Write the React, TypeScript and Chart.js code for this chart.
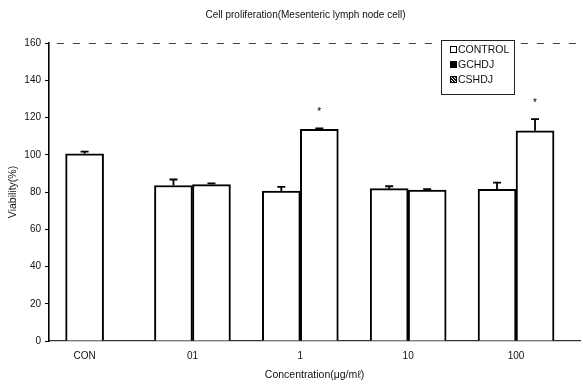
import React, { useEffect, useRef } from "react";
import { Chart, registerables } from "chart.js";

Chart.register(...registerables);

// ---------- data ----------
const TITLE = "Cell proliferation(Mesenteric lymph node cell)";
const X_TITLE = "Concentration(\u03BCg/m\u2113)";
const Y_TITLE = "Viability(%)";
const CATEGORIES = ["CON", "01", "1", "10", "100"];
const SERIES = ["CONTROL", "GCHDJ", "CSHDJ"];
const CONTROL = [100.5, null, null, null, null];
const CONTROL_ERR = [1.2, null, null, null, null];
const GCHDJ = [null, 83.5, 80.5, 81.8, 81.5];
const GCHDJ_ERR = [null, 3.2, 2.3, 1.3, 3.5];
const CSHDJ = [null, 84, 113.7, 81, 112.9];
const CSHDJ_ERR = [null, 0.6, 0.4, 0.5, 6.2];
const CSHDJ_SIGNIFICANT = [false, false, true, false, true];
const Y_MIN = 0;
const Y_MAX = 160;
const Y_STEP = 20;

const VALUES = [CONTROL, GCHDJ, CSHDJ];
const ERRORS = [CONTROL_ERR, GCHDJ_ERR, CSHDJ_ERR];
const SIGNIFICANT = [null, null, CSHDJ_SIGNIFICANT];

const FONT = "'Liberation Sans', Arial, sans-serif";

function hatchPattern(ctx: CanvasRenderingContext2D) {
  const c = document.createElement("canvas");
  c.width = 3;
  c.height = 3;
  const g = c.getContext("2d")!;
  g.fillStyle = "#fff";
  g.fillRect(0, 0, 3, 3);
  g.fillStyle = "#111";
  g.fillRect(0, 0, 2, 1);
  g.fillRect(1, 1, 2, 1);
  g.fillRect(0, 2, 1, 1);
  g.fillRect(2, 2, 1, 1);
  return ctx.createPattern(c, "repeat")!;
}

const decorPlugin = {
  id: "decor",
  beforeDatasetsDraw(chart: any) {
    const { ctx, chartArea } = chart;
    ctx.save();
    ctx.strokeStyle = "#444";
    ctx.lineWidth = 1;
    ctx.setLineDash([7, 9]);
    ctx.beginPath();
    ctx.moveTo(chartArea.left + 8, chartArea.top + 0.5);
    ctx.lineTo(chartArea.right + 3, chartArea.top + 0.5);
    ctx.stroke();
    ctx.restore();
  },
  afterDatasetsDraw(chart: any) {
    const { ctx, chartArea } = chart;
    const yScale = chart.scales.y;
    ctx.save();
    ctx.strokeStyle = "#000";
    ctx.lineWidth = 1.8;
    ERRORS.forEach((errs, di) => {
      const meta = chart.getDatasetMeta(di);
      meta.data.forEach((bar: any, i: number) => {
        const v = VALUES[di][i];
        const e = errs[i];
        if (v == null || e == null) return;
        const yTop = yScale.getPixelForValue(v + e);
        const yBase = yScale.getPixelForValue(v);
        ctx.beginPath();
        ctx.moveTo(bar.x, yBase);
        ctx.lineTo(bar.x, yTop);
        ctx.moveTo(bar.x - 4, yTop);
        ctx.lineTo(bar.x + 4, yTop);
        ctx.stroke();
        const sig = SIGNIFICANT[di];
        if (sig && sig[i]) {
          ctx.fillStyle = "#000";
          ctx.font = `10px ${FONT}`;
          ctx.textAlign = "center";
          ctx.textBaseline = "middle";
          ctx.fillText("*", bar.x, yTop - 16);
        }
      });
    });

    ctx.fillStyle = "#111";
    ctx.font = `10px ${FONT}`;
    ctx.textAlign = "center";
    ctx.textBaseline = "middle";
    ctx.fillText(TITLE, (chartArea.left + chartArea.right) / 2 - 9, 15);

    const bx = chartArea.right - 139;
    const by = chartArea.top - 3;
    const bw = 73;
    const bh = 54;
    ctx.fillStyle = "#fff";
    ctx.fillRect(bx, by, bw, bh);
    ctx.strokeStyle = "#222";
    ctx.lineWidth = 1;
    ctx.strokeRect(bx + 0.5, by + 0.5, bw, bh);
    const fills = ["#fff", "#000", hatchPattern(ctx)];
    SERIES.forEach((name, i) => {
      const cy = by + 10 + i * 15;
      ctx.fillStyle = fills[i] as any;
      ctx.fillRect(bx + 9, cy - 4, 7, 7);
      ctx.strokeStyle = "#000";
      ctx.lineWidth = 1;
      ctx.strokeRect(bx + 9.5, cy - 3.5, 6, 6);
      ctx.fillStyle = "#111";
      ctx.font = `10.5px ${FONT}`;
      ctx.textAlign = "left";
      ctx.textBaseline = "middle";
      ctx.fillText(name, bx + 17, cy + 0.5);
    });
    ctx.restore();
  },
};

export default function App() {
  const ref = useRef<HTMLCanvasElement | null>(null);
  useEffect(() => {
    if (!ref.current) return;
    const datasets = SERIES.map((name, di) => ({
      label: name,
      data: CATEGORIES.map((_, i) => ({ x: i, y: VALUES[di][i] })),
      backgroundColor: "#fff",
      borderColor: "#000",
      borderWidth: 2,
      barThickness: 38,
      skipNull: true,
    }));
    const chart = new Chart(ref.current, {
      type: "bar",
      data: { datasets },
      options: {
        animation: false,
        responsive: true,
        maintainAspectRatio: false,
        layout: { padding: { top: 43, right: 3, left: 0, bottom: 0 } },
        plugins: {
          legend: { display: false },
          title: { display: false },
          tooltip: { enabled: false },
        },
        scales: {
          x: {
            type: "linear",
            offset: false,
            min: -0.33,
            max: 4.593,
            grid: { display: false, drawTicks: false, offset: false },
            border: { display: true, color: "#333", width: 1.2 },
            afterBuildTicks: (scale: any) => {
              scale.ticks = CATEGORIES.map((_, i) => ({ value: i }));
            },
            afterFit: (scale: any) => {
              scale.height = 44;
            },
            ticks: {
              autoSkip: false,
              maxRotation: 0,
              padding: 9,
              color: "#111",
              font: { family: FONT, size: 10 },
              callback: (v: any) => CATEGORIES[v as number] ?? "",
            },
            title: {
              display: true,
              text: X_TITLE,
              color: "#111",
              font: { family: FONT, size: 10.5 },
              padding: { top: 0, bottom: 4 },
            },
          },
          y: {
            min: Y_MIN,
            max: Y_MAX,
            grid: { display: true, drawOnChartArea: false, drawTicks: true, tickLength: 4, color: "#000" },
            border: { display: true, color: "#000", width: 1.6 },
            afterFit: (scale: any) => {
              scale.width = 49;
            },
            ticks: {
              stepSize: Y_STEP,
              padding: 4,
              color: "#111",
              font: { family: FONT, size: 10 },
            },
            title: {
              display: true,
              text: Y_TITLE,
              color: "#111",
              font: { family: FONT, size: 10.5 },
              padding: { top: 7, bottom: 0 },
            },
          },
        },
      },
      plugins: [decorPlugin],
    } as any);
    return () => chart.destroy();
  }, []);
  return (
    <div style={{ position: "fixed", left: 0, top: 0, width: 583, height: 385, background: "#fff" }}>
      <canvas ref={ref} />
    </div>
  );
}
